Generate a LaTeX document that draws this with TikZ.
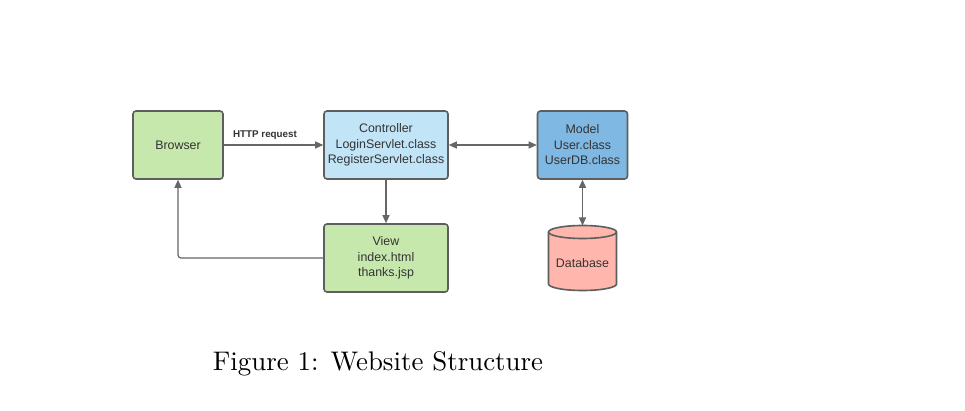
\documentclass[tikz,border=0pt]{standalone}
\usepackage{fontspec}
\newfontfamily\boxfont{Liberation Sans}
\newfontfamily\capfont{lmroman10-regular.otf}
\usetikzlibrary{arrows.meta}
\definecolor{bordergray}{HTML}{5E5E5E}
\definecolor{linegray}{HTML}{666666}
\definecolor{txtgray}{HTML}{333333}
\definecolor{greenfill}{HTML}{C7E8AC}
\definecolor{lightbluefill}{HTML}{C1E4F7}
\definecolor{bluefill}{HTML}{7FB8E2}
\definecolor{salmonfill}{HTML}{FFB6AD}
\begin{document}
\begin{tikzpicture}[x=1pt,y=-1pt,
  box/.style={draw=bordergray, line width=1.6pt, rounded corners=3pt,
    minimum width=#1, minimum height=68pt, inner sep=0pt, align=center,
    text=txtgray, font=\boxfont\fontsize{12.4}{15.5}\selectfont},
  box/.default=90pt,
  conn/.style={draw=linegray, line width=1.2pt},
  tip/.style={-{Triangle[length=8pt,width=7pt]}},
  dtip/.style={{Triangle[length=8pt,width=7pt]}-{Triangle[length=8pt,width=7pt]}},
  lbl/.style={text=txtgray, font=\boxfont\bfseries\fontsize{9.8}{12}\selectfont, inner sep=0pt}
]
\useasboundingbox (0,0) rectangle (965,411);
\fill[white] (0,0) rectangle (965,411);

\node[box=90pt, fill=greenfill] (browser) at (178,145) {Browser};
\node[box=124pt, fill=lightbluefill] (controller) at (386,145) {Controller\\LoginServlet.class\\RegisterServlet.class};
\node[box=124pt, fill=greenfill] (view) at (386,258) {View\\index.html\\thanks.jsp};
\node[box=90pt, fill=bluefill] (model) at (582.5,145) {Model\\User.class\\UserDB.class};

% Database cylinder
\draw[fill=salmonfill, draw=bordergray, line width=1.6pt]
  (548.5,232) -- (548.5,284) arc[start angle=180, end angle=0, x radius=34, y radius=6.5]
  -- (616.5,232) arc[start angle=0, end angle=-180, x radius=34, y radius=6.5] -- cycle;
\draw[draw=bordergray, line width=1.6pt]
  (548.5,232) arc[start angle=180, end angle=0, x radius=34, y radius=6.5];
\node[text=txtgray, font=\boxfont\fontsize{12.4}{15.5}\selectfont] (db) at (582.5,263) {Database};
\coordinate (dbtop) at (582.5,225.5);

% connectors
\draw[conn, tip] (browser.east) -- (controller.west);
\node[lbl] (http) at (265,135) {HTTP request};
\draw[conn, tip] (controller.south) -- (view.north);
\draw[conn, dtip] (controller.east) -- (model.west);
\draw[conn, dtip] (model.south) -- (dbtop);
\draw[conn, tip, rounded corners=3pt] (view.west) -| (browser.south);

% caption
\node[anchor=base, inner sep=0pt, font=\capfont\fontsize{26.9}{32}\selectfont] (caption) at (378,370) {Figure 1: Website Structure};
\end{tikzpicture}
\end{document}
